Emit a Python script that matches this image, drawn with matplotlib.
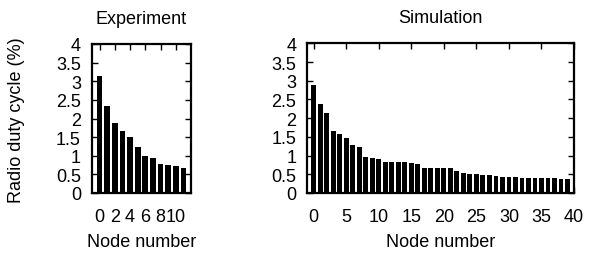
import matplotlib
matplotlib.use("Agg")
import matplotlib.pyplot as plt
import numpy as np

plt.rcParams['font.family'] = ['Liberation Sans', 'DejaVu Sans']

exp_nodes = list(range(12))
exp_values = [3.15, 2.34, 1.88, 1.66, 1.49, 1.23, 1.00, 0.95, 0.77, 0.75, 0.72, 0.68]

sim_nodes = list(range(40))
sim_values = [2.89, 2.39, 2.15, 1.67, 1.57, 1.46, 1.29, 1.23, 0.97, 0.93,
              0.92, 0.83, 0.82, 0.82, 0.82, 0.79, 0.77, 0.66, 0.66, 0.66,
              0.66, 0.66, 0.60, 0.54, 0.52, 0.52, 0.49, 0.47, 0.45, 0.44,
              0.43, 0.42, 0.41, 0.40, 0.40, 0.40, 0.39, 0.39, 0.37, 0.37]

yticks = [0, 0.5, 1, 1.5, 2, 2.5, 3, 3.5, 4]
ytick_labels = ['0', '0.5', '1', '1.5', '2', '2.5', '3', '3.5', '4']
exp_xticks = [0, 2, 4, 6, 8, 10]
sim_xticks = [0, 5, 10, 15, 20, 25, 30, 35, 40]

W, H = 589, 255
fig = plt.figure(figsize=(W / 100, H / 100), dpi=100)

FS = 13


def make_axes(l, r, t, b):
    return fig.add_axes([l / W, (H - b) / H, (r - l) / W, (b - t) / H])


ax1 = make_axes(92, 191, 45, 194)
ax2 = make_axes(307.3, 574, 44.3, 194)

for ax, x, y, xt, xlim, title in [
        (ax1, exp_nodes, exp_values, exp_xticks, (-1, 12), 'Experiment'),
        (ax2, sim_nodes, sim_values, sim_xticks, (-1, 40), 'Simulation')]:
    ax.bar(x, y, width=0.75, color='black', linewidth=0)
    ax.set_xlim(*xlim)
    ax.set_ylim(0, 4)
    ax.set_yticks(yticks)
    ax.set_yticklabels(ytick_labels)
    ax.set_xticks(xt)
    ax.set_xticklabels([str(v) for v in xt])
    ax.tick_params(direction='in', top=True, right=True, length=4, width=1,
                   labelsize=FS)
    ax.tick_params(axis='x', pad=11)
    ax.tick_params(axis='y', pad=8)
    for s in ax.spines.values():
        s.set_linewidth(1.6)
    ax.set_title(title, fontsize=FS, pad=15)
    pos = ax.get_position()
    fig.text(pos.x0 + pos.width / 2, (H - 243) / H, 'Node number',
             ha='center', va='center', fontsize=FS)

fig.text(17 / W, (H - 120) / H, 'Radio duty cycle (%)', rotation=90,
         ha='center', va='center', fontsize=FS)

fig.savefig('out.png', dpi=100)
